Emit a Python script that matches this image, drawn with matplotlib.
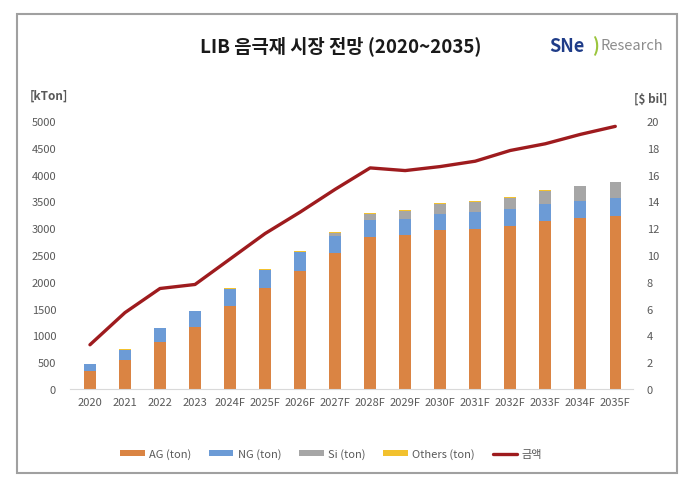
import matplotlib
matplotlib.use("Agg")
import matplotlib.pyplot as plt
from matplotlib.patches import Rectangle
import numpy as np

plt.rcParams['font.family'] = ['Noto Sans CJK KR', 'DejaVu Sans']

years = ["2020", "2021", "2022", "2023", "2024F", "2025F", "2026F", "2027F",
         "2028F", "2029F", "2030F", "2031F", "2032F", "2033F", "2034F", "2035F"]
ag = [330, 541, 871, 1163, 1542, 1878, 2207, 2537,
      2835, 2873, 2966, 2985, 3035, 3141, 3190, 3233]
ng = [140, 192, 258, 285, 320, 335, 345, 320,
      320, 305, 305, 325, 315, 310, 311, 325]
si = [0, 0, 0, 0, 10, 10, 12, 50,
      105, 140, 180, 180, 215, 250, 280, 300]
others = [5, 5, 6, 8, 12, 14, 16, 20,
          22, 20, 15, 12, 12, 12, 12, 12]
value = [3.3, 5.7, 7.5, 7.8, 9.7, 11.6, 13.2, 14.9,
         16.5, 16.3, 16.6, 17.0, 17.8, 18.3, 19.0, 19.6]

c_ag = "#DA8443"
c_ng = "#6C9BD6"
c_si = "#A6A6A6"
c_ot = "#F2C12E"
c_line = "#9E1B1E"
c_txt = "#595959"

fig = plt.figure(figsize=(7, 4.89), dpi=100)
ax = fig.add_axes([0.1, 0.2025, 0.804, 0.548])
ax2 = ax.twinx()

x = np.arange(len(years))
w = 0.33
b1 = np.array(ag)
b2 = b1 + np.array(ng)
b3 = b2 + np.array(si)
ax.bar(x, ag, w, color=c_ag, label="AG (ton)")
ax.bar(x, ng, w, bottom=b1, color=c_ng, label="NG (ton)")
ax.bar(x, si, w, bottom=b2, color=c_si, label="Si (ton)")
ax.bar(x, others, w, bottom=b3, color=c_ot, label="Others (ton)")
ax2.plot(x, value, color=c_line, lw=2.4, label="금액", solid_capstyle="round")

ax.set_xlim(-0.57, 15.5)
ax.set_ylim(0, 5000)
ax.set_yticks(range(0, 5001, 500))
ax2.set_ylim(0, 20)
ax2.set_yticks(range(0, 21, 2))
ax.set_xticks(x)
ax.set_xticklabels(years)

for a in (ax, ax2):
    for s in a.spines.values():
        s.set_visible(False)
    a.tick_params(length=0, labelsize=8, labelcolor=c_txt)
ax.spines['bottom'].set_visible(True)
ax.spines['bottom'].set_color("#D9D9D9")
ax.tick_params(axis='y', pad=10)
ax.tick_params(axis='x', pad=6)
ax2.tick_params(axis='y', pad=10)

fig.text(0.07, 0.797, "[kTon]", fontsize=8.5, fontweight='bold', color=c_txt, ha='center')
fig.text(0.93, 0.79, "[$ bil]", fontsize=8.5, fontweight='bold', color=c_txt, ha='center')

fig.text(0.487, 0.905, "LIB 음극재 시장 전망 (2020~2035)", fontsize=13.5,
         fontweight='bold', ha='center', va='center', color="#1a1a1a")
fig.text(0.785, 0.905, "SNe", fontsize=13, fontweight='bold', color="#1F3C88",
         ha='left', va='center')
fig.text(0.846, 0.905, ")", fontsize=13, fontweight='bold', color="#9BC53D",
         ha='left', va='center')
fig.text(0.858, 0.905, "Research", fontsize=10.5, color="#8C8C8C",
         ha='left', va='center')

h1, l1 = ax.get_legend_handles_labels()
h2, l2 = ax2.get_legend_handles_labels()
fig.legend(h1 + h2, l1 + l2, loc='center', bbox_to_anchor=(0.473, 0.07),
           ncol=5, frameon=False, fontsize=8, handlelength=2.2,
           handleheight=0.5, columnspacing=1.6, handletextpad=0.4,
           labelcolor=c_txt)

fig.patches.append(Rectangle((17 / 700, 1 - 474 / 489), 660 / 700, 459 / 489,
                             transform=fig.transFigure, fill=False,
                             edgecolor="#A0A0A0", lw=1.5))

fig.savefig("out.png", dpi=100)
